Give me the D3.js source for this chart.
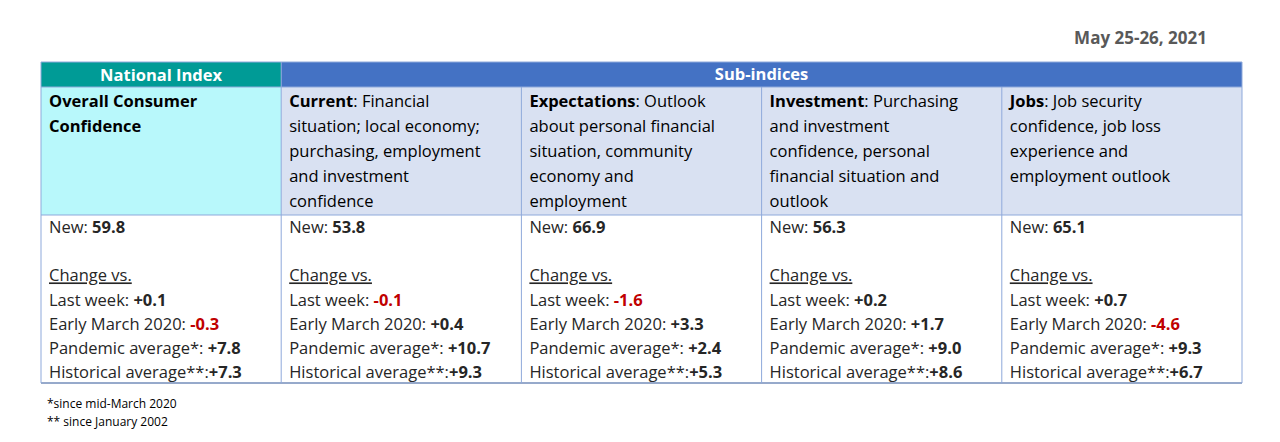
<!DOCTYPE html>
<html><head><meta charset="utf-8">
<script src="https://cdn.jsdelivr.net/npm/d3@7"></script>
<style>body{margin:0;background:#fff;} text{font-family:"Open Sans",sans-serif;}</style>
</head><body>
<script>
// column titles and description lines
var titles = ["Overall Consumer", "Current", "Expectations", "Investment", "Jobs"];
var descs = [
  ["Overall Consumer", "Confidence"],
  ["Financial", "situation; local economy;", "purchasing, employment", "and investment", "confidence"],
  ["Outlook", "about personal financial", "situation, community", "economy and", "employment"],
  ["Purchasing", "and investment", "confidence, personal", "financial situation and", "outlook"],
  ["Job security", "confidence, job loss", "experience and", "employment outlook"]
];
var newVals = ["59.8", "53.8", "66.9", "56.3", "65.1"];
var lastWeek = ["+0.1", "-0.1", "-1.6", "+0.2", "+0.7"];
var earlyMarch = ["-0.3", "+0.4", "+3.3", "+1.7", "-4.6"];
var pandemic = ["+7.8", "+10.7", "+2.4", "+9.0", "+9.3"];
var historical = ["+7.3", "+9.3", "+5.3", "+8.6", "+6.7"];

var svg = d3.select("body").append("svg").attr("width", 1280).attr("height", 442);
var x = d3.scaleBand().domain(d3.range(5)).range([41, 1242]);
var rowY = [62, 87, 215, 383];
var fs = 16.5, lh = 25;

svg.append("text").attr("x", 1207).attr("y", 44).attr("text-anchor", "end")
  .attr("font-size", 17).attr("font-weight", "bold").attr("fill", "#595959").text("May 25-26, 2021");

// header fills
svg.append("rect").attr("x", x(0)).attr("y", rowY[0]).attr("width", x.bandwidth()).attr("height", rowY[1]-rowY[0]).attr("fill", "#009B96");
svg.append("rect").attr("x", x(1)).attr("y", rowY[0]).attr("width", x.bandwidth()*4).attr("height", rowY[1]-rowY[0]).attr("fill", "#4472C4");
svg.append("text").attr("x", x(0)+x.bandwidth()/2).attr("y", 81).attr("text-anchor", "middle")
  .attr("fill", "#fff").attr("font-weight", "bold").attr("font-size", fs).text("National Index");
svg.append("text").attr("x", x(1)+x.bandwidth()*2).attr("y", 80).attr("text-anchor", "middle")
  .attr("fill", "#fff").attr("font-weight", "bold").attr("font-size", fs).text("Sub-indices");

d3.range(5).forEach(function(i) {
  var x0 = x(i);
  svg.append("rect").attr("x", x0).attr("y", rowY[1]).attr("width", x.bandwidth()).attr("height", rowY[2]-rowY[1])
    .attr("fill", i === 0 ? "#B8F8FB" : "#D9E1F2");
  descs[i].forEach(function(line, j) {
    var t = svg.append("text").attr("x", x0+8).attr("y", 107 + j*lh).attr("font-size", fs).attr("fill", "#000");
    if (i === 0) { t.attr("font-weight", "bold").text(line); }
    else if (j === 0) {
      t.append("tspan").attr("font-weight", "bold").text(titles[i]);
      t.append("tspan").text(":  " + line);
    } else t.text(line);
  });
  var lines = [
    ["New: ", newVals[i]], null, ["Change vs.", null],
    ["Last week: ", lastWeek[i]], ["Early March 2020:  ", earlyMarch[i]],
    ["Pandemic average*:" + (pandemic[i].length > 4 ? "  " : " "), pandemic[i]],
    ["Historical average**:", historical[i]]
  ];
  lines.forEach(function(l, j) {
    if (!l) return;
    var t = svg.append("text").attr("x", x0+8).attr("y", 233 + j*24.2).attr("font-size", fs).attr("fill", "#262626");
    var lab = t.append("tspan").text(l[0]);
    if (l[1] === null) lab.attr("text-decoration", "underline");
    else t.append("tspan").attr("font-weight", "bold")
      .attr("fill", l[1][0] === "-" ? "#C00000" : "#262626").text(l[1]);
  });
});

// grid lines
var stroke = "#8EA9DB";
rowY.forEach(function(y, k) {
  svg.append("line").attr("x1", 41).attr("x2", 1242).attr("y1", y).attr("y2", y)
    .attr("stroke", k === 3 ? "#2F5597" : stroke).attr("stroke-width", 1);
});
d3.range(6).forEach(function(i) {
  var xx = i < 5 ? x(i) : 1242;
  svg.append("line").attr("x1", xx).attr("x2", xx).attr("y1", i === 0 || i === 5 || true ? (i===0||i===1||i===5 ? rowY[0] : rowY[1]) : rowY[1]).attr("y2", rowY[3])
    .attr("stroke", stroke).attr("stroke-width", 1);
});

svg.append("text").attr("x", 47).attr("y", 408).attr("font-size", 12).attr("fill", "#000").text("*since mid-March 2020");
svg.append("text").attr("x", 47).attr("y", 426).attr("font-size", 12).attr("fill", "#000").text("** since January 2002");
</script>
</body></html>
